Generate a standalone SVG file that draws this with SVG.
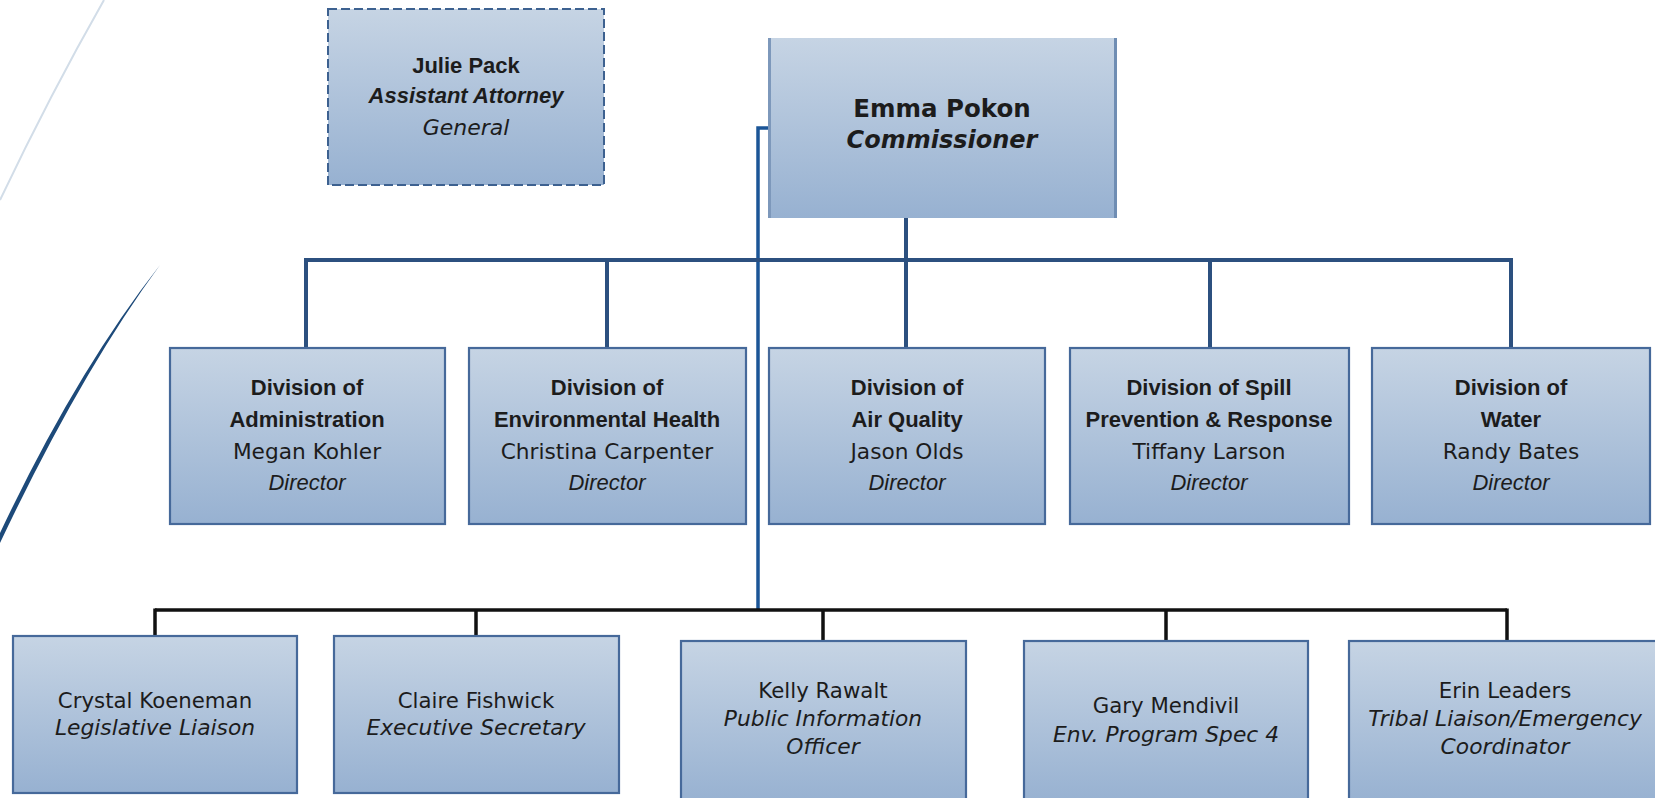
<svg xmlns="http://www.w3.org/2000/svg" width="1655" height="798" viewBox="0 0 1655 798">
<defs>
<linearGradient id="g" x1="0" y1="0" x2="0" y2="1">
<stop offset="0" stop-color="#c6d4e4"/>
<stop offset="1" stop-color="#97b1d1"/>
</linearGradient>
<style>
.box{fill:url(#g);stroke:#46699a;stroke-width:2.2}
.dash{fill:url(#g);stroke:#3d6190;stroke-width:2;stroke-dasharray:9 4}
text{font-family:"Liberation Sans",Arial,sans-serif;fill:#1c1c1c;text-anchor:middle}
.b{font-weight:bold;font-size:22px}
.bi{font-weight:bold;font-style:italic;font-size:22px}
.r{font-family:"DejaVu Sans","Liberation Sans",sans-serif;font-size:21.7px}
.i{font-style:italic;font-size:22px}
.g{font-family:"DejaVu Sans","Liberation Sans",sans-serif;font-style:italic;font-size:22px}
.s{font-family:"DejaVu Sans","Liberation Sans",sans-serif;font-size:21.3px}
.si{font-family:"DejaVu Sans","Liberation Sans",sans-serif;font-size:21.8px;font-style:italic}
.e{font-family:"DejaVu Sans","Liberation Sans",sans-serif;font-weight:bold;font-size:24.5px}
.ei{font-family:"DejaVu Sans","Liberation Sans",sans-serif;font-weight:bold;font-style:italic;font-size:24px}
.bl{fill:none;stroke:#2c507f;stroke-width:4}
.bv{fill:none;stroke:#1b5597;stroke-width:3.5}
.k{fill:none;stroke:#111;stroke-width:3.5}
</style>
</defs>
<rect width="1655" height="798" fill="#fff"/>
<g id="decor">
<path d="M104,0 Q50,95 0,200" fill="none" stroke="#d2dde8" stroke-width="2"/>
<path d="M160,265 Q76,372 0,533 L0,543 Q80,374 160,265 Z" fill="#1d4a7a"/>
</g>
<g id="connectors">
<polyline class="bv" points="768,128 758,128 758,610"/>
<line class="bl" x1="906" y1="218" x2="906" y2="260"/>
<line class="bl" x1="306" y1="260" x2="1511" y2="260"/>
<line class="bl" x1="306" y1="258" x2="306" y2="348"/>
<line class="bl" x1="607" y1="260" x2="607" y2="348"/>
<line class="bl" x1="906" y1="260" x2="906" y2="348"/>
<line class="bl" x1="1210" y1="260" x2="1210" y2="348"/>
<line class="bl" x1="1511" y1="258" x2="1511" y2="348"/>
<line class="k" x1="155" y1="610" x2="1507" y2="610"/>
<line class="k" x1="155" y1="608.5" x2="155" y2="636"/>
<line class="k" x1="476" y1="610" x2="476" y2="636"/>
<line class="k" x1="823" y1="610" x2="823" y2="641"/>
<line class="k" x1="1166" y1="610" x2="1166" y2="641"/>
<line class="k" x1="1507" y1="608.5" x2="1507" y2="641"/>
</g>
<g id="julie">
<rect class="dash" x="328" y="9" width="276" height="176"/>
<text x="466" y="73" class="b">Julie Pack</text>
<text x="466" y="103" class="bi">Assistant Attorney</text>
<text x="466" y="135" class="g">General</text>
</g>
<g id="emma">
<rect x="768" y="38" width="349" height="180" fill="url(#g)"/>
<rect x="768" y="38" width="3" height="180" fill="#7d98bb"/>
<rect x="1114" y="38" width="3" height="180" fill="#6f8db3"/>
<text x="942" y="117" class="e">Emma Pokon</text>
<text x="942" y="148" class="ei">Commissioner</text>
</g>
<g id="admin">
<rect class="box" x="170" y="348" width="275" height="176"/>
<text x="307" y="395" class="b">Division of</text>
<text x="307" y="427" class="b">Administration</text>
<text x="307" y="459" class="r">Megan Kohler</text>
<text x="307" y="490" class="i">Director</text>
</g>
<g id="envhealth">
<rect class="box" x="469" y="348" width="277" height="176"/>
<text x="607" y="395" class="b">Division of</text>
<text x="607" y="427" class="b">Environmental Health</text>
<text x="607" y="459" class="r">Christina Carpenter</text>
<text x="607" y="490" class="i">Director</text>
</g>
<g id="air">
<rect class="box" x="769" y="348" width="276" height="176"/>
<text x="907" y="395" class="b">Division of</text>
<text x="907" y="427" class="b">Air Quality</text>
<text x="907" y="459" class="r">Jason Olds</text>
<text x="907" y="490" class="i">Director</text>
</g>
<g id="spill">
<rect class="box" x="1070" y="348" width="279" height="176"/>
<text x="1209" y="395" class="b">Division of Spill</text>
<text x="1209" y="427" class="b">Prevention &amp; Response</text>
<text x="1209" y="459" class="r">Tiffany Larson</text>
<text x="1209" y="490" class="i">Director</text>
</g>
<g id="water">
<rect class="box" x="1372" y="348" width="278" height="176"/>
<text x="1511" y="395" class="b">Division of</text>
<text x="1511" y="427" class="b">Water</text>
<text x="1511" y="459" class="r">Randy Bates</text>
<text x="1511" y="490" class="i">Director</text>
</g>
<g id="crystal">
<rect class="box" x="13" y="636" width="284" height="157"/>
<text x="155" y="708" class="s">Crystal Koeneman</text>
<text x="155" y="735" class="si">Legislative Liaison</text>
</g>
<g id="claire">
<rect class="box" x="334" y="636" width="285" height="157"/>
<text x="476" y="708" class="s">Claire Fishwick</text>
<text x="476" y="735" class="si">Executive Secretary</text>
</g>
<g id="kelly">
<rect class="box" x="681" y="641" width="285" height="162"/>
<text x="823" y="698" class="s">Kelly Rawalt</text>
<text x="823" y="726" class="si">Public Information</text>
<text x="823" y="754" class="si">Officer</text>
</g>
<g id="gary">
<rect class="box" x="1024" y="641" width="284" height="162"/>
<text x="1166" y="713" class="s">Gary Mendivil</text>
<text x="1166" y="742" class="si">Env. Program Spec 4</text>
</g>
<g id="erin">
<rect class="box" x="1349" y="641" width="316" height="162"/>
<text x="1505" y="698" class="s">Erin Leaders</text>
<text x="1505" y="726" class="si">Tribal Liaison/Emergency</text>
<text x="1505" y="754" class="si">Coordinator</text>
</g>
</svg>
